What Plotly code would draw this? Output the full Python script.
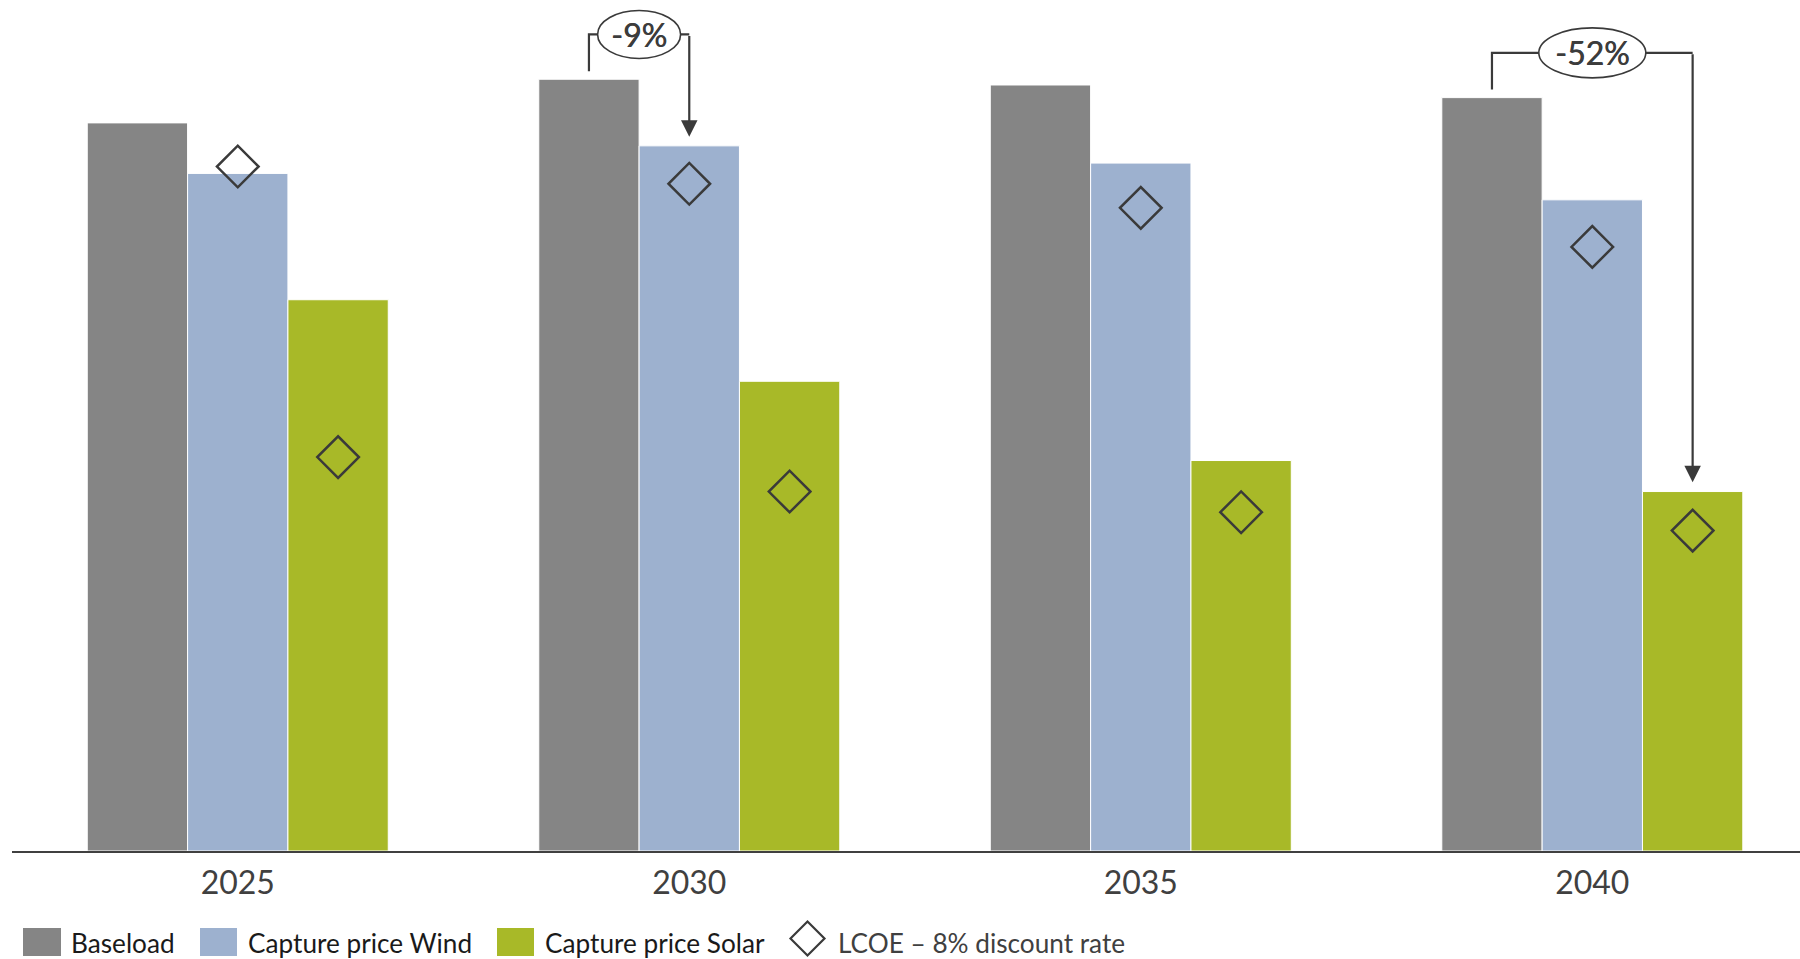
import plotly.graph_objects as go

# Prices per year (same units across series)
years = ["2025", "2030", "2035", "2040"]
baseload = [63.4, 67.2, 66.7, 65.6]
capture_wind = [59.0, 61.4, 59.9, 56.7]
capture_solar = [48.0, 40.9, 34.0, 31.3]
lcoe_wind = [59.6, 58.1, 56.0, 52.6]
lcoe_solar = [34.3, 31.3, 29.5, 27.9]

# Colours and fonts
C_BASE = "#858585"
C_WIND = "#9db1cf"
C_SOLAR = "#a8b928"
C_INK = "#3a3a3a"
FONT = "Lato"

W, H = 1800, 959
M_L, M_R, M_T, M_B = 12, 0, 0, 108
PLOT_W = W - M_L - M_R
PLOT_H = H - M_T - M_B

BARGAP = 1 / 3
BW = (1 - BARGAP) / 3          # width of one bar in category units
X_RANGE = [-0.5, 3.46]
Y_RANGE = [0, 74.1]

xs = list(range(len(years)))

fig = go.Figure()
for name, vals, col in [("Baseload", baseload, C_BASE),
                        ("Capture price Wind", capture_wind, C_WIND),
                        ("Capture price Solar", capture_solar, C_SOLAR)]:
    fig.add_trace(go.Bar(x=xs, y=vals, name=name, marker_color=col,
                         marker_line=dict(width=1, color="white"),
                         showlegend=False))

# LCOE markers over the wind and solar bars
diamond = dict(symbol="diamond-open", size=32, color=C_INK, line=dict(width=2.5))
fig.add_trace(go.Scatter(x=xs, y=lcoe_wind, mode="markers", marker=diamond,
                         name="LCOE – 8% discount rate", showlegend=False))
fig.add_trace(go.Scatter(x=[i + BW for i in xs], y=lcoe_solar, mode="markers",
                         marker=diamond, showlegend=False))

shapes = []
annotations = []


def bracket(x_from, top_from, x_to, top_to, y_h, oval_x, oval_w, oval_h, text):
    gap = 0.7
    shapes.append(dict(type="path", xref="x", yref="y",
                       path=f"M{x_from},{top_from + gap} L{x_from},{y_h} L{x_to},{y_h}",
                       line=dict(color=C_INK, width=2.2)))
    annotations.append(dict(x=x_to, y=top_to + 0.8, ax=x_to, ay=y_h,
                            xref="x", yref="y", axref="x", ayref="y",
                            text="", showarrow=True, arrowhead=2, arrowsize=1.5,
                            arrowwidth=2.2, arrowcolor=C_INK, standoff=0))
    shapes.append(dict(type="circle", xref="x", yref="y",
                       xsizemode="pixel", ysizemode="pixel",
                       xanchor=oval_x, yanchor=y_h,
                       x0=-oval_w / 2, x1=oval_w / 2, y0=-oval_h / 2, y1=oval_h / 2,
                       fillcolor="white", line=dict(color=C_INK, width=1.6)))
    annotations.append(dict(x=oval_x, y=y_h, xref="x", yref="y", text=text,
                            showarrow=False,
                            font=dict(family=FONT, size=32, color="#3c3c3c",
                                      shadow="0.6px 0 0 #3c3c3c")))


def pct(a, b):
    return f"{round((a / b - 1) * 100)}%"


# 2030: wind capture price vs baseload
bracket(1 - BW, baseload[1], 1, capture_wind[1], 71.1, 1 - BW / 2, 83, 48,
        pct(capture_wind[1], baseload[1]))
# 2040: solar capture price vs baseload
bracket(3 - BW, baseload[3], 3 + BW, capture_solar[3], 69.5, 3, 107, 50,
        pct(capture_solar[3], baseload[3]))


# Legend drawn in pixel positions along the bottom
def px(x):
    return (x - M_L) / PLOT_W


def py(y):
    return (M_T + PLOT_H - y) / PLOT_H


LEG_Y = 942.5
LEG_SIZE = 26.2
legend_items = [("Baseload", C_BASE, 23, 61, 69),
                ("Capture price Wind", C_WIND, 200, 237, 246),
                ("Capture price Solar", C_SOLAR, 497, 534, 543)]
for label, col, x0, x1, tx in legend_items:
    shapes.append(dict(type="rect", xref="paper", yref="paper",
                       x0=px(x0), x1=px(x1), y0=py(LEG_Y + 13.5), y1=py(LEG_Y - 14.5),
                       fillcolor=col, line=dict(width=0)))
    annotations.append(dict(x=px(tx), y=py(LEG_Y), xref="paper", yref="paper",
                            xanchor="left", yanchor="middle", text=label, showarrow=False,
                            font=dict(family=FONT, size=LEG_SIZE, color="#1a1a1a")))

dcx, dcy, dr = 807.5, 938.5, 17
shapes.append(dict(type="path", xref="paper", yref="paper",
                   path=(f"M{px(dcx)},{py(dcy - dr)} L{px(dcx + dr)},{py(dcy)} "
                         f"L{px(dcx)},{py(dcy + dr)} L{px(dcx - dr)},{py(dcy)} Z"),
                   line=dict(color=C_INK, width=2.2)))
annotations.append(dict(x=px(836), y=py(LEG_Y), xref="paper", yref="paper",
                        xanchor="left", yanchor="middle", text="LCOE – 8% discount rate",
                        showarrow=False, font=dict(family=FONT, size=LEG_SIZE, color="#404040")))

fig.update_layout(
    width=W, height=H,
    margin=dict(l=M_L, r=M_R, t=M_T, b=M_B, pad=0),
    barmode="group", bargap=BARGAP, bargroupgap=0,
    plot_bgcolor="white", paper_bgcolor="white",
    font=dict(family=FONT, color="#404040"),
    showlegend=False,
    shapes=shapes, annotations=annotations,
    xaxis=dict(range=X_RANGE, tickmode="array", tickvals=xs, ticktext=years,
               showgrid=False, zeroline=False, showline=True, linecolor="#404040",
               linewidth=2.3, ticks="", ticklabelstandoff=2,
               tickfont=dict(family=FONT, size=32, color="#404040"),
               fixedrange=True),
    yaxis=dict(range=Y_RANGE, visible=False, showgrid=False, zeroline=False, fixedrange=True),
)

fig.write_html("out.html")
